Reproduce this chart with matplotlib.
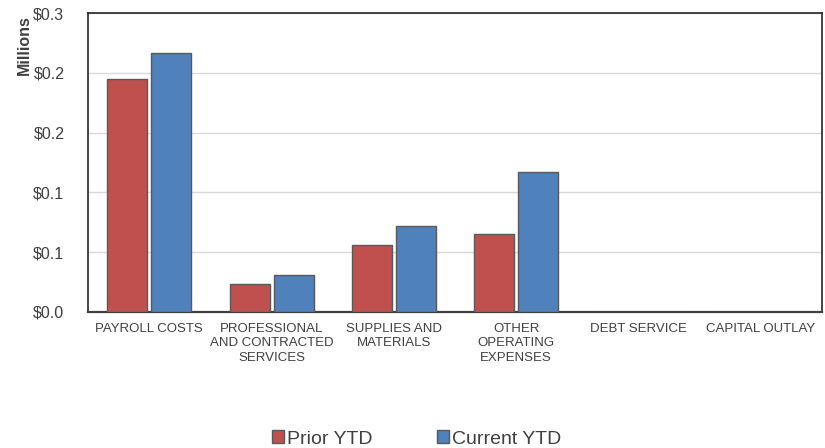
import matplotlib.pyplot as plt
import numpy as np

plt.rcParams['font.family'] = ['Liberation Sans', 'DejaVu Sans']

categories = ['PAYROLL COSTS', 'PROFESSIONAL\nAND CONTRACTED\nSERVICES',
              'SUPPLIES AND\nMATERIALS', 'OTHER\nOPERATING\nEXPENSES',
              'DEBT SERVICE', 'CAPITAL OUTLAY']
prior_ytd = [0.1952, 0.0232, 0.0559, 0.0653, 0.0, 0.0]
current_ytd = [0.2170, 0.0310, 0.0718, 0.1168, 0.0, 0.0]
y_ticks = [0.0, 0.05, 0.10, 0.15, 0.20, 0.25]
y_labels = ['$0.0', '$0.1', '$0.1', '$0.2', '$0.2', '$0.3']

fig = plt.figure(figsize=(8.25, 4.48), dpi=100)
ax = fig.add_axes([0.1067, 0.3043, 0.8897, 0.6660])

x = np.arange(len(categories))
w = 0.327
ax.bar(x - 0.18, prior_ytd, w, color='#C0504D', edgecolor='#595959',
       linewidth=1.0, label='Prior YTD', zorder=3)
ax.bar(x + 0.18, current_ytd, w, color='#4F81BD', edgecolor='#595959',
       linewidth=1.0, label='Current YTD', zorder=3)

ax.set_xlim(-0.5, len(categories) - 0.5)
ax.set_ylim(0, 0.25)
ax.set_yticks(y_ticks)
ax.set_yticklabels(y_labels, fontsize=11.5, color='#404040')
ax.set_xticks(x)
ax.set_xticklabels(categories, fontsize=9.5, color='#404040', linespacing=1.3)
ax.tick_params(axis='both', length=0)
ax.tick_params(axis='x', pad=8)
ax.tick_params(axis='y', pad=17)
ax.yaxis.grid(True, color='#d9d9d9', linewidth=1.0, zorder=0)

for s in ax.spines.values():
    s.set_color('#262626')
    s.set_linewidth(1.2)
ax.spines['bottom'].set_color('#404040')
ax.spines['bottom'].set_linewidth(1.6)

fig.text(0.030, 0.9, 'Millions', rotation=90, fontsize=11.5, fontweight='bold',
         color='#404040', ha='center', va='center')

fig.legend(loc='center', bbox_to_anchor=(0.505, 0.02), ncol=2, frameon=False,
           fontsize=14, handlelength=0.65, handleheight=0.65, handletextpad=0.15,
           columnspacing=3.3, labelcolor='#404040')

fig.savefig('out.png', dpi=100)
